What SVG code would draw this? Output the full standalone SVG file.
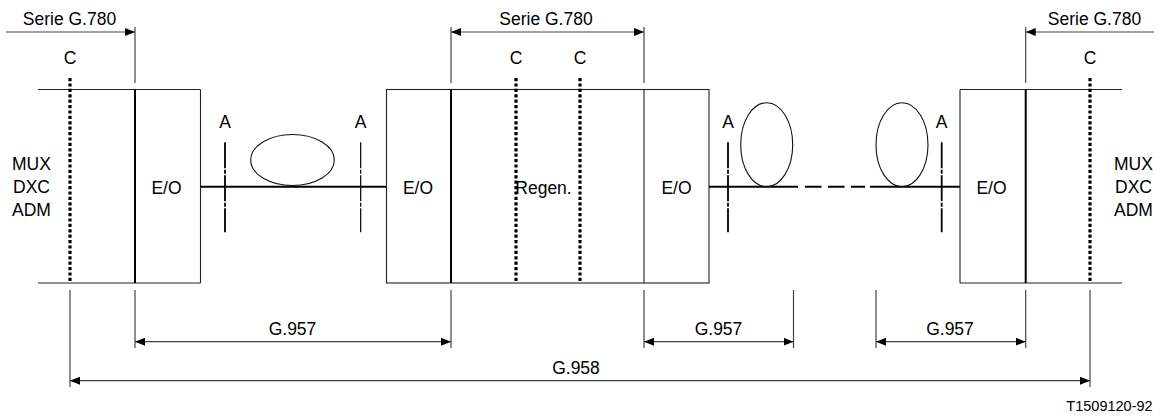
<svg xmlns="http://www.w3.org/2000/svg" width="1162" height="416" viewBox="0 0 1162 416">
<style>
text{font-family:"Liberation Sans",Arial,sans-serif;font-size:17.5px;fill:#000;text-anchor:middle}
.thin{stroke:#222;stroke-width:1.1;fill:none}
.thick{stroke:#000;stroke-width:2;fill:none}
.dot{stroke:#000;stroke-width:3.2;stroke-dasharray:3.2 2.2;fill:none}
.fiber{stroke:#000;stroke-width:2;fill:none}
.ref{stroke:#000;stroke-width:1.8;stroke-dasharray:26 1.5 4 1.5;fill:none}
.refthin{stroke:#000;stroke-width:1.2;stroke-dasharray:26 1.5 4 1.5;fill:none}
.dim{stroke:#444;stroke-width:1.2;fill:none}
.ell{stroke:#111;stroke-width:1.1;fill:none}
.small{font-size:14.5px}
</style>
<defs>
<marker id="ah" markerUnits="userSpaceOnUse" markerWidth="10" markerHeight="8" refX="10" refY="4" orient="auto-start-reverse">
<path d="M0,0 L10,4 L0,8 z" fill="#000"/>
</marker>
</defs>

<g id="left-terminal">
<line class="thin" x1="38" y1="89.5" x2="200.5" y2="89.5"/>
<line class="thin" x1="38" y1="283" x2="200.5" y2="283"/>
<line class="thin" x1="200.5" y1="89.5" x2="200.5" y2="283"/>
<line class="thick" x1="135" y1="89.5" x2="135" y2="283"/>
<line class="dot" x1="70" y1="78" x2="70" y2="283"/>
<text x="70" y="64">C</text>
<text x="31.5" y="170">MUX</text>
<text x="31.5" y="193">DXC</text>
<text x="31.5" y="215.5">ADM</text>
<text x="166.5" y="194">E/O</text>
</g>

<g id="regenerator">
<rect class="thin" x="386.5" y="89.5" width="322.5" height="193.5"/>
<line class="thick" x1="451" y1="89.5" x2="451" y2="283"/>
<line class="thin" x1="644" y1="89.5" x2="644" y2="283"/>
<line class="dot" x1="516" y1="78" x2="516" y2="283"/>
<line class="dot" x1="580" y1="78" x2="580" y2="283"/>
<text x="516" y="64">C</text>
<text x="580" y="64">C</text>
<text x="418" y="194">E/O</text>
<text x="543.5" y="194">Regen.</text>
<text x="676.5" y="194">E/O</text>
</g>

<g id="right-terminal">
<line class="thin" x1="960" y1="89.5" x2="1122" y2="89.5"/>
<line class="thin" x1="960" y1="283" x2="1122" y2="283"/>
<line class="thin" x1="960" y1="89.5" x2="960" y2="283"/>
<line class="thick" x1="1025.7" y1="89.5" x2="1025.7" y2="283"/>
<line class="dot" x1="1090" y1="78" x2="1090" y2="283"/>
<text x="1090" y="64">C</text>
<text x="1133.5" y="170">MUX</text>
<text x="1133.5" y="193">DXC</text>
<text x="1133.5" y="215.5">ADM</text>
<text x="991.5" y="194">E/O</text>
</g>

<g id="fiber-left">
<line class="fiber" x1="200.5" y1="186.7" x2="386.5" y2="186.7"/>
<ellipse class="ell" cx="292.5" cy="160" rx="41.8" ry="25.5"/>
<line class="ref" x1="225" y1="142.3" x2="225" y2="232.3"/>
<line class="refthin" x1="360.7" y1="142.3" x2="360.7" y2="232.3"/>
<text x="225" y="128">A</text>
<text x="360.7" y="128">A</text>
</g>

<g id="fiber-right">
<line class="fiber" x1="709" y1="186.7" x2="798" y2="186.7"/>
<line class="fiber" x1="805" y1="186.7" x2="865" y2="186.7" stroke-dasharray="16.5 6.5"/>
<line class="fiber" x1="870" y1="186.7" x2="960" y2="186.7"/>
<ellipse class="ell" cx="766.7" cy="144.7" rx="26" ry="42"/>
<ellipse class="ell" cx="902" cy="144.7" rx="26" ry="42"/>
<line class="ref" x1="728" y1="142.3" x2="728" y2="232.3"/>
<line class="ref" x1="941.7" y1="142.3" x2="941.7" y2="232.3"/>
<text x="728" y="128">A</text>
<text x="941.5" y="128">A</text>
</g>

<g id="connectors">
<line class="dim" x1="135" y1="27" x2="135" y2="83"/>
<line class="dim" x1="451" y1="27" x2="451" y2="83"/>
<line class="dim" x1="644" y1="27" x2="644" y2="83"/>
<line class="dim" x1="1025.7" y1="27" x2="1025.7" y2="83"/>
<line class="dim" x1="6" y1="32" x2="135" y2="32" marker-end="url(#ah)"/>
<line class="dim" x1="451" y1="32" x2="644" y2="32" marker-start="url(#ah)" marker-end="url(#ah)"/>
<line class="dim" x1="1154" y1="32" x2="1025.7" y2="32" marker-end="url(#ah)"/>

<line class="dim" x1="70" y1="290" x2="70" y2="387"/>
<line class="dim" x1="1090" y1="290" x2="1090" y2="387"/>
<line class="dim" x1="135" y1="290" x2="135" y2="348"/>
<line class="dim" x1="451" y1="290" x2="451" y2="348"/>
<line class="dim" x1="644" y1="290" x2="644" y2="348"/>
<line class="dim" x1="793.5" y1="290" x2="793.5" y2="348"/>
<line class="dim" x1="876" y1="290" x2="876" y2="348"/>
<line class="dim" x1="1025.7" y1="290" x2="1025.7" y2="348"/>
<line class="dim" x1="135" y1="341.7" x2="451" y2="341.7" marker-start="url(#ah)" marker-end="url(#ah)"/>
<line class="dim" x1="644" y1="341.7" x2="793.5" y2="341.7" marker-start="url(#ah)" marker-end="url(#ah)"/>
<line class="dim" x1="876" y1="341.7" x2="1025.7" y2="341.7" marker-start="url(#ah)" marker-end="url(#ah)"/>
<line class="dim" x1="70" y1="380.7" x2="1090" y2="380.7" marker-start="url(#ah)" marker-end="url(#ah)"/>
</g>

<g id="dimension-labels">
<text x="69.5" y="25">Serie G.780</text>
<text x="546" y="25">Serie G.780</text>
<text x="1094.5" y="25">Serie G.780</text>
<text x="292.5" y="335">G.957</text>
<text x="718.5" y="335">G.957</text>
<text x="950" y="335">G.957</text>
<text x="576" y="374">G.958</text>
<text class="small" x="1109.5" y="410.5">T1509120-92</text>
</g>
</svg>
